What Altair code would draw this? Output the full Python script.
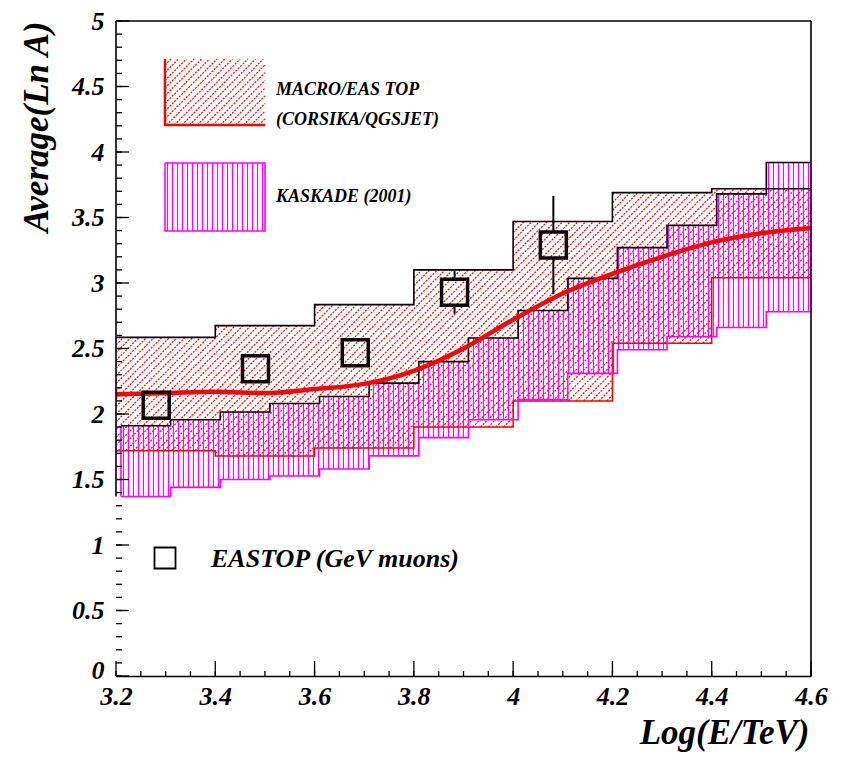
import numpy as np
import pandas as pd
import altair as alt

# ---------------- data ----------------
# MACRO/EAS-TOP (CORSIKA/QGSJET) band, bins of 0.2 in Log(E/TeV)
MACRO_EDGES = [3.2, 3.4, 3.6, 3.8, 4.0, 4.2, 4.4, 4.6]
MACRO_HIGH = [2.585, 2.675, 2.835, 3.10, 3.47, 3.69, 3.72]
MACRO_LOW = [1.72, 1.68, 1.74, 1.90, 2.10, 2.54, 3.04]

# KASKADE (2001) band, bins of 0.1
KASK_EDGES = [3.21, 3.31, 3.41, 3.51, 3.61, 3.71, 3.81, 3.91, 4.01, 4.11,
              4.21, 4.31, 4.41, 4.51, 4.60]
KASK_HIGH = [1.91, 1.956, 2.015, 2.08, 2.134, 2.236, 2.40, 2.58, 2.79, 3.035,
             3.27, 3.44, 3.68, 3.92]
KASK_LOW = [1.37, 1.44, 1.50, 1.527, 1.58, 1.68, 1.82, 1.956, 2.11, 2.31,
            2.49, 2.59, 2.66, 2.78]

# smooth red curve
CURVE_X = [3.2, 3.3, 3.4, 3.5, 3.6, 3.7, 3.8, 3.9, 4.0, 4.1, 4.2, 4.3, 4.4, 4.5, 4.6]
CURVE_Y = [2.15, 2.16, 2.17, 2.16, 2.19, 2.23, 2.33, 2.50, 2.72, 2.92, 3.07,
           3.20, 3.31, 3.38, 3.42]

# EAS-TOP (GeV muons) points
EASTOP_X = [3.281, 3.481, 3.682, 3.882, 4.081]
EASTOP_Y = [2.066, 2.345, 2.467, 2.93, 3.29]
EASTOP_ERR = [0.11, 0.10, 0.06, 0.165, 0.375]

X_LABELS = [3.2, 3.4, 3.6, 3.8, 4.0, 4.2, 4.4, 4.6]
Y_LABELS = [0, 0.5, 1, 1.5, 2, 2.5, 3, 3.5, 4, 4.5, 5]

# ---------------- geometry ----------------
W, H = 695, 655
X0, X1, Y0, Y1 = 3.2, 4.6, 0.0, 5.0
PX_X = W / (X1 - X0)
PX_Y = H / (Y1 - Y0)
RED = "#ff0000"
MAG = "#ff00ff"
FONT = "Liberation Serif"

xs = alt.Scale(domain=[X0, X1], nice=False, zero=False)
ys = alt.Scale(domain=[Y0, Y1], nice=False, zero=False)


def step_eval(edges, vals, x):
    e = np.asarray(edges, float)
    v = np.asarray(vals, float)
    idx = np.searchsorted(e, x, side="right") - 1
    out = np.full(x.shape, np.nan)
    ok = (idx >= 0) & (idx < len(v))
    out[ok] = v[idx[ok]]
    out[np.isclose(x, e[-1])] = v[-1]
    return out


def diag_hatch(edges, lo, hi, spacing_px=7.7):
    xg = np.linspace(edges[0], edges[-1], 4001)
    lo_x = step_eval(edges, lo, xg)
    hi_x = step_eval(edges, hi, xg)
    s = PX_X / PX_Y  # 45 degrees on screen
    dc = spacing_px / PX_Y
    cmin = np.nanmin(lo_x) - s * (edges[-1] - X0)
    cmax = np.nanmax(hi_x) - s * (edges[0] - X0)
    rows = []
    for c in np.arange(np.floor(cmin / dc) * dc, cmax + dc, dc):
        y = c + s * (xg - X0)
        inside = (y >= lo_x) & (y <= hi_x)
        d = np.diff(inside.astype(int))
        starts = list(np.where(d == 1)[0] + 1)
        ends = list(np.where(d == -1)[0])
        if inside[0]:
            starts = [0] + starts
        if inside[-1]:
            ends = ends + [len(xg) - 1]
        for a, b in zip(starts, ends):
            if b > a:
                rows.append(dict(x=xg[a], y=y[a], x2=xg[b], y2=y[b]))
    return pd.DataFrame(rows)


def vert_hatch(edges, lo, hi, spacing_px=5.0):
    dx = spacing_px / PX_X
    xv = np.arange(edges[0] + dx / 2, edges[-1], dx)
    return pd.DataFrame(dict(x=xv, y=step_eval(edges, lo, xv), y2=step_eval(edges, hi, xv)))


def step_path(edges, vals):
    rows = []
    k = 0
    for i, v in enumerate(vals):
        rows.append(dict(x=edges[i], y=v, o=k)); k += 1
        rows.append(dict(x=edges[i + 1], y=v, o=k)); k += 1
    return pd.DataFrame(rows)


def seg_layer(df, color, width, dash=None):
    kw = dict(color=color, strokeWidth=width)
    if dash:
        kw["strokeDash"] = dash
    return alt.Chart(df).mark_rule(**kw).encode(
        x=alt.X("x:Q", scale=xs), y=alt.Y("y:Q", scale=ys),
        x2="x2:Q", y2="y2:Q")


def vline_layer(df, color, width):
    return alt.Chart(df).mark_rule(color=color, strokeWidth=width).encode(
        x=alt.X("x:Q", scale=xs), y=alt.Y("y:Q", scale=ys), y2="y2:Q")


def path_layer(df, color, width):
    return alt.Chart(df).mark_line(color=color, strokeWidth=width, interpolate="linear").encode(
        x=alt.X("x:Q", scale=xs), y=alt.Y("y:Q", scale=ys),
        order=alt.Order("o:Q"))


# ---------------- axes layer ----------------
axes_df = pd.DataFrame(dict(x=CURVE_X, y=CURVE_Y))
axes = alt.Chart(axes_df).mark_point(opacity=0).encode(
    x=alt.X("x:Q", scale=xs, title="Log(E/TeV)",
            axis=alt.Axis(values=X_LABELS, format="~g", labelPadding=7)),
    y=alt.Y("y:Q", scale=ys, title="Average(Ln A)",
            axis=alt.Axis(values=Y_LABELS, format="~g", labelPadding=12,
                          labelOffset={"expr": "datum.value == 0 ? -6 : 0"})),
)

# ---------------- bands ----------------
red_hatch = seg_layer(diag_hatch(MACRO_EDGES, MACRO_LOW, MACRO_HIGH), RED, 1.2, [2, 1.3])
mag_hatch = vline_layer(vert_hatch(KASK_EDGES, KASK_LOW, KASK_HIGH), MAG, 1.2)
macro_low_line = path_layer(step_path(MACRO_EDGES, MACRO_LOW), RED, 1.5)
macro_high_line = path_layer(step_path(MACRO_EDGES, MACRO_HIGH), "black", 1.6)
kask_low_line = path_layer(step_path(KASK_EDGES, KASK_LOW), MAG, 1.6)
kask_high_line = path_layer(step_path(KASK_EDGES, KASK_HIGH), "black", 1.6)
kask_left = vline_layer(pd.DataFrame(dict(x=[KASK_EDGES[0]], y=[KASK_LOW[0]], y2=[KASK_HIGH[0]])), MAG, 1.6)

curve = alt.Chart(pd.DataFrame(dict(x=CURVE_X, y=CURVE_Y))).mark_line(
    color=RED, strokeWidth=4.5, interpolate="monotone").encode(
    x=alt.X("x:Q", scale=xs), y=alt.Y("y:Q", scale=ys))

# ---------------- EAS-TOP points ----------------
half = 13.0 / PX_Y
err_rows = []
for x, y, e in zip(EASTOP_X, EASTOP_Y, EASTOP_ERR):
    if e > half:
        err_rows.append(dict(x=x, y=y + half, y2=y + e))
        err_rows.append(dict(x=x, y=y - half, y2=y - e))
errbars = vline_layer(pd.DataFrame(err_rows), "black", 2.0)
pts = alt.Chart(pd.DataFrame(dict(x=EASTOP_X, y=EASTOP_Y))).mark_point(
    shape="square", filled=False, size=26 * 26, strokeWidth=3.5, color="black", opacity=1).encode(
    x=alt.X("x:Q", scale=xs), y=alt.Y("y:Q", scale=ys))

# ---------------- ticks (inside, ROOT style) ----------------
y_minor = [round(0.1 * i, 2) for i in range(51)]
x_minor = [round(3.2 + 0.05 * i, 3) for i in range(29)]


def ytick_layer(vals, length):
    return alt.Chart(pd.DataFrame(dict(y=vals))).mark_rule(color="black", strokeWidth=1.3).encode(
        y=alt.Y("y:Q", scale=ys), x=alt.value(0), x2=alt.value(length))


def xtick_layer(vals, length):
    return alt.Chart(pd.DataFrame(dict(x=vals))).mark_rule(color="black", strokeWidth=1.3).encode(
        x=alt.X("x:Q", scale=xs), y=alt.value(H), y2=alt.value(H - length))


ticks = [ytick_layer(y_minor, 6), ytick_layer(Y_LABELS, 13),
         xtick_layer(x_minor, 5), xtick_layer(X_LABELS, 15)]

# ---------------- frame ----------------
one = pd.DataFrame(dict(a=[0]))
frame_top = alt.Chart(one).mark_rule(color="black", strokeWidth=1.6).encode(
    x=alt.value(0), x2=alt.value(W), y=alt.value(0))
frame_right = alt.Chart(one).mark_rule(color="black", strokeWidth=1.6).encode(
    x=alt.value(W), y=alt.value(0), y2=alt.value(H))
frame_left = alt.Chart(pd.DataFrame(dict(x=[X0], y=[Y1], y2=[KASK_LOW[0]]))).mark_rule(
    color="black", strokeWidth=1.6).encode(
    x=alt.X("x:Q", scale=xs), y=alt.Y("y:Q", scale=ys), y2="y2:Q")


# ---------------- legend ----------------
def px_to_x(p):
    return X0 + p / PX_X


def px_to_y(p):
    return Y1 - p / PX_Y


lg_x = [px_to_x(49), px_to_x(149)]
red_box_lo, red_box_hi = [px_to_y(104)], [px_to_y(38)]
mag_box_lo, mag_box_hi = [px_to_y(210)], [px_to_y(142)]

leg_red_hatch = seg_layer(diag_hatch(lg_x, red_box_lo, red_box_hi), RED, 1.2, [2, 1.3])
leg_red_edges = path_layer(pd.DataFrame(dict(
    x=[lg_x[0], lg_x[0], lg_x[1]], y=[red_box_hi[0], red_box_lo[0], red_box_lo[0]], o=[0, 1, 2])), RED, 2.5)
leg_mag_hatch = vline_layer(vert_hatch(lg_x, mag_box_lo, mag_box_hi), MAG, 1.2)
leg_mag_edges = path_layer(pd.DataFrame(dict(
    x=[lg_x[0], lg_x[1], lg_x[1], lg_x[0], lg_x[0]],
    y=[mag_box_hi[0], mag_box_hi[0], mag_box_lo[0], mag_box_lo[0], mag_box_hi[0]],
    o=[0, 1, 2, 3, 4])), MAG, 1.6)


def text_layer(txt, px, py, size):
    return alt.Chart(pd.DataFrame(dict(t=[txt]))).mark_text(
        font=FONT, fontWeight="bold", fontStyle="italic", fontSize=size,
        align="left", baseline="middle", color="black").encode(
        x=alt.value(px), y=alt.value(py), text="t:N")


leg_texts = [
    text_layer("MACRO/EAS TOP", 160, 69, 18),
    text_layer("(CORSIKA/QGSJET)", 160, 99, 18),
    text_layer("KASKADE (2001)", 160, 176, 18),
    text_layer("EASTOP (GeV muons)", 95, 538, 26),
]
leg_square = alt.Chart(one).mark_point(
    shape="square", filled=False, size=21 * 21, strokeWidth=1.8, color="black", opacity=1).encode(
    x=alt.value(49), y=alt.value(537))

chart = alt.layer(
    axes,
    red_hatch, mag_hatch, leg_red_hatch, leg_mag_hatch,
    macro_low_line, kask_low_line, kask_left,
    kask_high_line, macro_high_line,
    curve,
    errbars, pts,
    *ticks, frame_top, frame_right, frame_left,
    leg_red_edges, leg_mag_edges, *leg_texts, leg_square,
).properties(
    width=W, height=H,
    padding={"left": 108, "top": 13, "right": 32, "bottom": 76},
    autosize=alt.AutoSizeParams(type="none"),
    background="white",
).configure_view(stroke=None).configure_axis(
    grid=False, ticks=False, domain=False,
    labelFont=FONT, labelFontWeight="bold", labelFontStyle="italic",
    labelFontSize=26, labelColor="black", labelFlush=False,
    titleFont=FONT, titleFontWeight="bold", titleFontStyle="italic",
    titleFontSize=35, titleColor="black",
).configure_axisX(
    domain=True, domainColor="black", domainWidth=1.6,
    titleX=W - 2, titleY=67, titleAlign="right", titleBaseline="alphabetic",
).configure_axisY(
    titleX=-80, titleY=0, titleAngle=270, titleAlign="right", titleBaseline="middle",
)

chart.save("out.html", embed_options={"renderer": "svg", "actions": False})
